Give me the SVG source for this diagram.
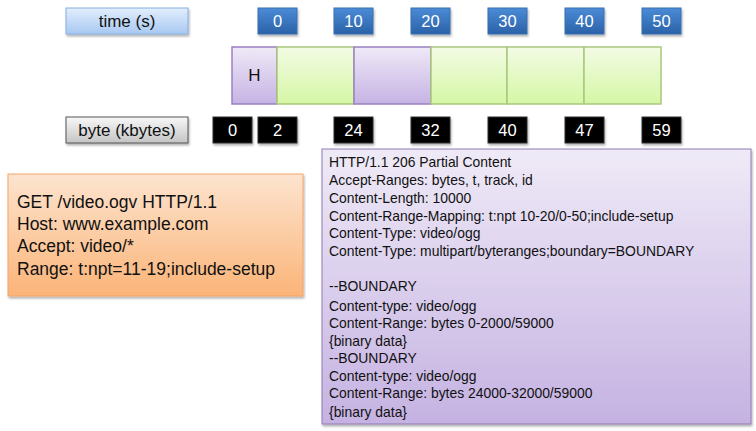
<svg xmlns="http://www.w3.org/2000/svg" width="756" height="431" viewBox="0 0 756 431">
<defs>
<linearGradient id="gTime" x1="0" y1="0" x2="0" y2="1"><stop offset="0" stop-color="#e2eefc"/><stop offset="1" stop-color="#a8c8f2"/></linearGradient>
<linearGradient id="gBlue" x1="0" y1="0" x2="0" y2="1"><stop offset="0" stop-color="#4b8bd6"/><stop offset="1" stop-color="#2a62a8"/></linearGradient>
<linearGradient id="gGray" x1="0" y1="0" x2="0" y2="1"><stop offset="0" stop-color="#f8f8f8"/><stop offset="1" stop-color="#c4c4c4"/></linearGradient>
<linearGradient id="gPurp" x1="0" y1="0" x2="0" y2="1"><stop offset="0" stop-color="#efe9f7"/><stop offset="1" stop-color="#c6b3e4"/></linearGradient>
<linearGradient id="gGreen" x1="0" y1="0" x2="0" y2="1"><stop offset="0" stop-color="#f3fbe4"/><stop offset="1" stop-color="#d5f7a5"/></linearGradient>
<linearGradient id="gOrange" x1="0" y1="0" x2="0" y2="1"><stop offset="0" stop-color="#fde4cf"/><stop offset="1" stop-color="#fbb478"/></linearGradient>
<linearGradient id="gResp" x1="0" y1="0" x2="0" y2="1"><stop offset="0" stop-color="#efeaf7"/><stop offset="1" stop-color="#c5b2e2"/></linearGradient>
<filter id="sh" x="-10%" y="-10%" width="125%" height="130%"><feDropShadow dx="1" dy="2" stdDeviation="1.2" flood-color="#000" flood-opacity="0.3"/></filter>
</defs>
<style>
text{font-family:"Liberation Sans",Arial,sans-serif}
.lbl{font-size:17px;text-anchor:middle;fill:#111}
.num{font-size:16.5px;text-anchor:middle;fill:#fff}
.blue{fill:url(#gBlue);stroke:#3a6fb0;stroke-width:1}
.blk{fill:#000;stroke:#333;stroke-width:1}
.pseg{fill:url(#gPurp);stroke:#9a80c2;stroke-width:1.5}
.gseg{fill:url(#gGreen);stroke:#a9c77e;stroke-width:1.5}
.req{font-size:17.5px;fill:#111}
.resp{font-size:13.9px;fill:#111}
</style>
<g id="time-label"><rect x="66" y="8" width="122" height="26" fill="url(#gTime)" stroke="#86aee0" filter="url(#sh)"/><text class="lbl" x="127" y="27">time (s)</text></g>
<g id="time-ticks">
<g id="t0"><rect class="blue" x="258" y="8" width="39" height="26" filter="url(#sh)"/><text class="num" x="277.5" y="27">0</text></g>
<g id="t10"><rect class="blue" x="334" y="8" width="39" height="26" filter="url(#sh)"/><text class="num" x="353.5" y="27">10</text></g>
<g id="t20"><rect class="blue" x="411" y="8" width="39" height="26" filter="url(#sh)"/><text class="num" x="430.5" y="27">20</text></g>
<g id="t30"><rect class="blue" x="488" y="8" width="39" height="26" filter="url(#sh)"/><text class="num" x="507.5" y="27">30</text></g>
<g id="t40"><rect class="blue" x="565" y="8" width="39" height="26" filter="url(#sh)"/><text class="num" x="584.5" y="27">40</text></g>
<g id="t50"><rect class="blue" x="642" y="8" width="39" height="26" filter="url(#sh)"/><text class="num" x="661.5" y="27">50</text></g>
</g>
<g id="bar">
<g id="seg-h"><rect class="pseg" x="232" y="47" width="45" height="57"/><text class="lbl" x="254.5" y="81">H</text></g>
<rect id="seg1" class="gseg" x="277" y="47" width="77" height="57"/>
<rect id="seg2" class="pseg" x="354" y="47" width="77" height="57"/>
<rect id="seg3" class="gseg" x="431" y="47" width="76" height="57"/>
<rect id="seg4" class="gseg" x="507" y="47" width="77" height="57"/>
<rect id="seg5" class="gseg" x="584" y="47" width="77" height="57"/>
</g>
<g id="byte-label"><rect x="66" y="117" width="122" height="26" fill="url(#gGray)" stroke="#555" filter="url(#sh)"/><text class="lbl" x="127" y="136">byte (kbytes)</text></g>
<g id="byte-ticks">
<g id="b0"><rect class="blk" x="213" y="117" width="39" height="26" filter="url(#sh)"/><text class="num" x="232.5" y="136">0</text></g>
<g id="b2"><rect class="blk" x="258" y="117" width="39" height="26" filter="url(#sh)"/><text class="num" x="277.5" y="136">2</text></g>
<g id="b24"><rect class="blk" x="334" y="117" width="39" height="26" filter="url(#sh)"/><text class="num" x="353.5" y="136">24</text></g>
<g id="b32"><rect class="blk" x="411" y="117" width="39" height="26" filter="url(#sh)"/><text class="num" x="430.5" y="136">32</text></g>
<g id="b40"><rect class="blk" x="488" y="117" width="39" height="26" filter="url(#sh)"/><text class="num" x="507.5" y="136">40</text></g>
<g id="b47"><rect class="blk" x="565" y="117" width="39" height="26" filter="url(#sh)"/><text class="num" x="584.5" y="136">47</text></g>
<g id="b59"><rect class="blk" x="642" y="117" width="39" height="26" filter="url(#sh)"/><text class="num" x="661.5" y="136">59</text></g>
</g>
<g id="request">
<rect x="8" y="174" width="295" height="122" fill="url(#gOrange)" stroke="#f4a668" filter="url(#sh)"/>
<text class="req" x="17" y="208">GET /video.ogv HTTP/1.1</text>
<text class="req" x="17" y="230">Host: www.example.com</text>
<text class="req" x="17" y="252">Accept: video/*</text>
<text class="req" x="17" y="275">Range: t:npt=11-19;include-setup</text>
</g>
<g id="response">
<rect x="322" y="149" width="429" height="275" fill="url(#gResp)" stroke="#8f7cb3" filter="url(#sh)"/>
<text class="resp" x="329" y="167">HTTP/1.1 206 Partial Content</text>
<text class="resp" x="329" y="185">Accept-Ranges: bytes, t, track, id</text>
<text class="resp" x="329" y="203">Content-Length: 10000</text>
<text class="resp" x="329" y="221">Content-Range-Mapping: t:npt 10-20/0-50;include-setup</text>
<text class="resp" x="329" y="238">Content-Type: video/ogg</text>
<text class="resp" x="329" y="256">Content-Type: multipart/byteranges;boundary=BOUNDARY</text>
<text class="resp" x="329" y="291">--BOUNDARY</text>
<text class="resp" x="329" y="311">Content-type: video/ogg</text>
<text class="resp" x="329" y="328">Content-Range: bytes 0-2000/59000</text>
<text class="resp" x="329" y="346">{binary data}</text>
<text class="resp" x="329" y="363">--BOUNDARY</text>
<text class="resp" x="329" y="381">Content-type: video/ogg</text>
<text class="resp" x="329" y="398">Content-Range: bytes 24000-32000/59000</text>
<text class="resp" x="329" y="417">{binary data}</text>
</g>
</svg>
